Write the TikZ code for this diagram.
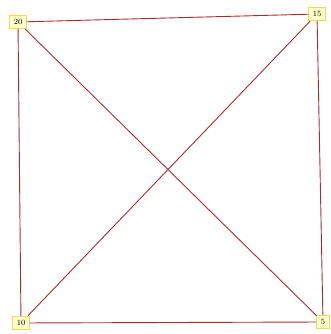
\documentclass[tikz,border=0pt]{standalone}
\usepackage{tikz}
\usetikzlibrary{arrows.meta,positioning}
\usepackage{xcolor}
\definecolor{edgered}{RGB}{165,45,50}
\definecolor{boxfill}{RGB}{255,255,200}
\definecolor{boxline}{RGB}{240,215,100}

\begin{document}
\begin{tikzpicture}[x=1pt,y=1pt,
    vert/.style={draw=boxline,fill=boxfill,line width=0.8pt,inner sep=4pt,font=\footnotesize},
    edge/.style={draw=edgered,line width=0.9pt}]
        \useasboundingbox (0,0) rectangle (331,334);
        \node[vert] (n20) at (18,312) {20};
        \node[vert] (n15) at (317,320) {15};
        \node[vert] (n10) at (21,11) {10};
        \node[vert] (n5) at (323,12) {5};
        \draw[edge] (n20) -- (n15);
        \draw[edge] (n15) -- (n5);
        \draw[edge] (n5) -- (n10);
        \draw[edge] (n10) -- (n20);
        \draw[edge] (n20) -- (n5);
        \draw[edge] (n15) -- (n10);
      \end{tikzpicture}
\end{document}
